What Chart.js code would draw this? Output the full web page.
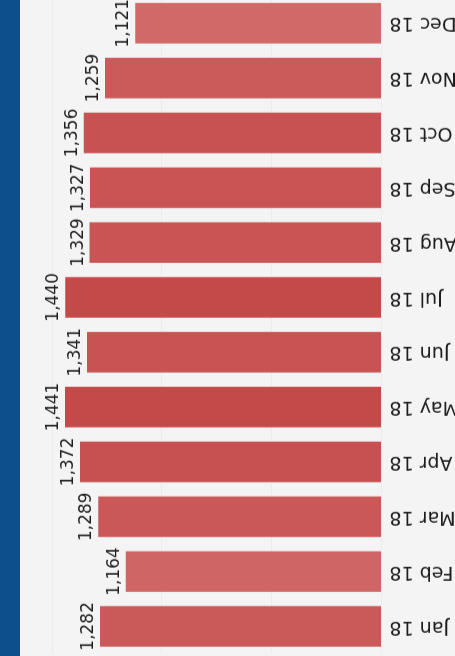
<!DOCTYPE html>
<html>
<head>
<meta charset="utf-8">
<script src="https://cdn.jsdelivr.net/npm/chart.js@4"></script>
<style>
  html, body { margin: 0; padding: 0; width: 455px; height: 656px; overflow: hidden; background: #f4f4f4; }
  #wrap {
    position: absolute; left: 0; top: 0;
    width: 672px; height: 470px;
    transform-origin: 0 0;
    transform: translate(0px, 663.8px) rotate(-90deg);
  }
</style>
</head>
<body>
<div id="wrap"><canvas id="monthlyChart" width="672" height="470"></canvas></div>
<script>
// Monthly totals, 2018
const months = ['Jan 18', 'Feb 18', 'Mar 18', 'Apr 18', 'May 18', 'Jun 18',
                'Jul 18', 'Aug 18', 'Sep 18', 'Oct 18', 'Nov 18', 'Dec 18'];
const totals = [1282, 1164, 1289, 1372, 1441, 1341, 1440, 1329, 1327, 1356, 1259, 1121];
const valueTicks = [0, 500, 1000, 1500];

// lighter red for low months, deeper red for high ones
function barColor(v) {
    const lo = Math.min(...totals), hi = Math.max(...totals);
    const t = (v - lo) / (hi - lo);
    const light = [209, 105, 105], dark = [196, 73, 73];
    const c = light.map((l, i) => Math.round(l + (dark[i] - l) * t));
    return 'rgb(' + c.join(',') + ')';
}

// background + blue band along the top edge
const backdrop = {
    id: 'backdrop',
    beforeDraw(chart) {
        const ctx = chart.ctx;
        ctx.save();
        ctx.fillStyle = '#f4f4f4';
        ctx.fillRect(0, 0, chart.width, chart.height);
        ctx.fillStyle = '#0c4f8c';
        ctx.fillRect(0, 0, chart.width, 20);
        ctx.restore();
    }
};

// value labels above each bar
const valueLabels = {
    id: 'valueLabels',
    afterDatasetsDraw(chart) {
        const ctx = chart.ctx;
        const meta = chart.getDatasetMeta(0);
        ctx.save();
        ctx.font = '17px "DejaVu Sans"';
        ctx.fillStyle = '#1e1e1e';
        ctx.textAlign = 'center';
        ctx.textBaseline = 'alphabetic';
        meta.data.forEach((bar, i) => {
            ctx.fillText(totals[i].toLocaleString('en-US'), bar.x, bar.y - 7);
        });
        ctx.restore();
    }
};

function initMonthlyChart() {
    Chart.defaults.font.family = '"DejaVu Sans"';
    const ctx = document.getElementById('monthlyChart').getContext('2d');
    new Chart(ctx, {
        type: 'bar',
        data: {
            labels: months,
            datasets: [{
                data: totals,
                backgroundColor: totals.map(barColor),
                barPercentage: 0.925,
                categoryPercentage: 0.8
            }]
        },
        options: {
            responsive: false,
            animation: false,
            layout: {
                padding: { top: 52, left: 10, right: 4, bottom: 0 }
            },
            plugins: {
                legend: { display: false },
                tooltip: { enabled: false }
            },
            scales: {
                x: {
                    grid: { display: false },
                    border: { display: false },
                    ticks: {
                        color: '#1e1e1e',
                        font: { size: 19 },
                        minRotation: 90,
                        maxRotation: 90,
                        padding: 0
                    },
                    afterFit(scale) {
                        scale.height = 88.5;
                    }
                },
                y: {
                    min: 0,
                    max: 1500,
                    afterBuildTicks(scale) {
                        scale.ticks = valueTicks.map(v => ({ value: v }));
                    },
                    grid: {
                        color: '#ececec',
                        drawTicks: false
                    },
                    border: { display: false },
                    ticks: { display: false }
                }
            }
        },
        plugins: [backdrop, valueLabels]
    });
}

window.addEventListener('load', () => {
    initMonthlyChart();
});
</script>
</body>
</html>
